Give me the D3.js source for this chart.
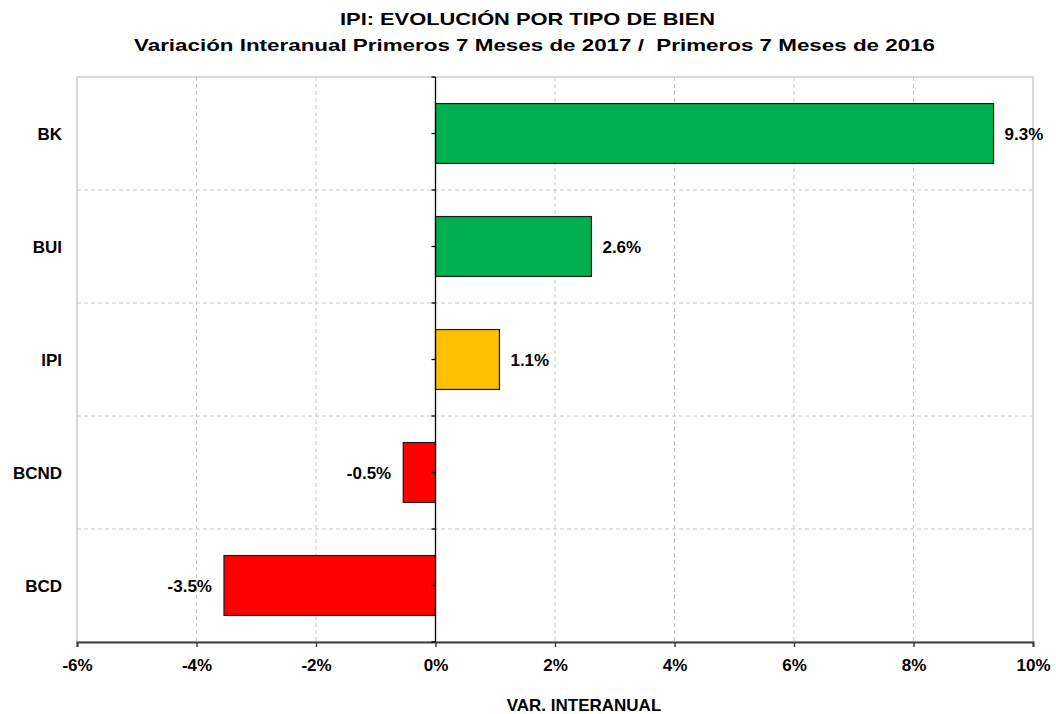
<!DOCTYPE html>
<meta charset="utf-8">
<style>
    body { margin: 0; background: #fff; }
    text { font-family: "Liberation Sans", Arial, sans-serif; font-weight: bold; fill: #000; }
    .title { font-size: 17px; white-space: pre; }
    .lbl { font-size: 17px; }
    .grid line { stroke: #c8c8c8; stroke-dasharray: 4,3; }
</style>
<body>
<script src="https://cdnjs.cloudflare.com/ajax/libs/d3/7.8.5/d3.min.js"></script>
<script>
    // data
    var categories = ["BK", "BUI", "IPI", "BCND", "BCD"];
    var values = [9.34, 2.61, 1.07, -0.54, -3.54];
    var barColors = ["#00b050", "#00b050", "#ffc000", "#ff0000", "#ff0000"];
    var xTicks = [-6, -4, -2, 0, 2, 4, 6, 8, 10];

    var width = 1056, height = 714;
    var margin = {top: 77, right: 23, bottom: 72, left: 77};
    var plotTop = margin.top, plotBottom = height - margin.bottom;

    var pct = function(d, dec) { return d.toFixed(dec) + "%"; };

    var svg = d3.select("body").append("svg")
        .attr("width", width)
        .attr("height", height);

    var x = d3.scaleLinear()
        .domain([-6, 10])
        .range([margin.left, width - margin.right]);

    var y = d3.scaleBand()
        .domain(categories)
        .range([plotTop, plotBottom])
        .paddingInner(0.47)
        .paddingOuter(0.235);

    var band = d3.scaleBand()
        .domain(categories)
        .range([plotTop, plotBottom]);

    // plot frame (light gray)
    svg.append("rect")
        .attr("x", x(-6)).attr("y", plotTop)
        .attr("width", x(10) - x(-6)).attr("height", plotBottom - plotTop)
        .attr("fill", "none").attr("stroke", "#d9d9d9").attr("stroke-width", 2);

    // vertical grid
    svg.append("g").attr("class", "grid")
        .selectAll("line")
        .data(xTicks.filter(function(d) { return d !== -6 && d !== 0 && d !== 10; }))
        .enter().append("line")
        .attr("x1", function(d) { return x(d); })
        .attr("x2", function(d) { return x(d); })
        .attr("y1", plotTop).attr("y2", plotBottom);

    // horizontal grid at band boundaries
    svg.append("g").attr("class", "grid")
        .selectAll("line")
        .data(categories.slice(1))
        .enter().append("line")
        .attr("x1", x(-6)).attr("x2", x(10))
        .attr("y1", function(d) { return band(d); })
        .attr("y2", function(d) { return band(d); });

    // bars
    svg.append("g")
        .selectAll("rect")
        .data(values)
        .enter().append("rect")
        .attr("x", function(d) { return x(Math.min(0, d)); })
        .attr("y", function(d, i) { return y(categories[i]); })
        .attr("width", function(d) { return Math.abs(x(d) - x(0)); })
        .attr("height", y.bandwidth())
        .attr("fill", function(d, i) { return barColors[i]; })
        .attr("stroke", "#1a1a1a")
        .attr("stroke-width", 1.2);

    // value labels
    svg.append("g")
        .selectAll("text")
        .data(values)
        .enter().append("text")
        .attr("class", "lbl")
        .attr("x", function(d) { return d >= 0 ? x(d) + 11 : x(d) - 12; })
        .attr("y", function(d, i) { return y(categories[i]) + y.bandwidth() / 2 + 6; })
        .attr("text-anchor", function(d) { return d >= 0 ? "start" : "end"; })
        .text(function(d) { return pct(d, 1); });

    // bottom axis
    var xAxis = d3.axisBottom(x)
        .tickValues(xTicks)
        .tickSize(5)
        .tickFormat(function(d) { return pct(d, 0); });

    var gx = svg.append("g")
        .attr("transform", "translate(0," + plotBottom + ")")
        .call(xAxis);
    gx.select(".domain").attr("stroke", "#404040").attr("stroke-width", 2);
    gx.selectAll(".tick line").attr("stroke", "#404040").attr("stroke-width", 1.5);
    gx.selectAll(".tick text")
        .attr("class", "lbl")
        .attr("dy", 0).attr("y", 29)
        .style("font-size", "17px");

    // zero axis with ticks at centers and boundaries
    svg.append("line")
        .attr("x1", x(0)).attr("x2", x(0))
        .attr("y1", plotTop).attr("y2", plotBottom)
        .attr("stroke", "#000").attr("stroke-width", 1.3);

    var yTickPos = [];
    categories.forEach(function(c) {
        yTickPos.push(band(c));
        yTickPos.push(band(c) + band.bandwidth() / 2);
    });
    yTickPos.push(plotBottom);
    svg.append("g").selectAll("line")
        .data(yTickPos)
        .enter().append("line")
        .attr("x1", x(0) - 4).attr("x2", x(0))
        .attr("y1", function(d) { return d; })
        .attr("y2", function(d) { return d; })
        .attr("stroke", "#000").attr("stroke-width", 1.3);

    // category labels
    svg.append("g")
        .selectAll("text")
        .data(categories)
        .enter().append("text")
        .attr("class", "lbl")
        .attr("x", 62)
        .attr("y", function(d) { return band(d) + band.bandwidth() / 2 + 6; })
        .attr("text-anchor", "end")
        .text(function(d) { return d; });

    // titles (stretched horizontally like the original)
    svg.append("text").attr("class", "title")
        .attr("x", 340).attr("y", 25)
        .attr("textLength", 375).attr("lengthAdjust", "spacingAndGlyphs")
        .text("IPI: EVOLUCIÓN POR TIPO DE BIEN");
    svg.append("text").attr("class", "title")
        .attr("x", 134).attr("y", 51)
        .attr("textLength", 801).attr("lengthAdjust", "spacingAndGlyphs")
        .text("Variación Interanual Primeros 7 Meses de 2017 /  Primeros 7 Meses de 2016");

    svg.append("text")
        .attr("class", "lbl")
        .attr("x", 584).attr("y", 711)
        .attr("text-anchor", "middle")
        .text("VAR. INTERANUAL");
</script>
</body>
